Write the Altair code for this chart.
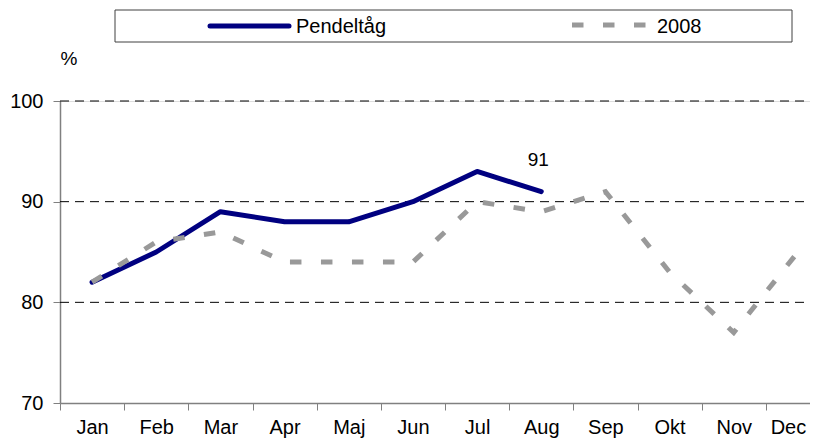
import altair as alt
import pandas as pd

months = ["Jan", "Feb", "Mar", "Apr", "Maj", "Jun", "Jul", "Aug", "Sep", "Okt", "Nov", "Dec"]
pendel = [82, 85, 89, 88, 88, 90, 93, 91]
y2008 = [82, 86, 87, 84, 84, 84, 90, 89, 91, 83, 77, 85]
grid_vals = [80, 90, 100]
y_ticks = [70, 80, 90, 100]
last_label = "91"
series_names = ["Pendeltåg", "2008"]
title_text = "Pendeltåg"

FONT = "Liberation Sans"
NAVY = "#000080"
GRAY = "#999999"
FS = 20

df_p = pd.DataFrame({"month": months[:len(pendel)], "value": pendel})
df_8 = pd.DataFrame({"month": months, "value": y2008})
df_grid = pd.DataFrame({"value": grid_vals})
df_lab = pd.DataFrame({"month": [months[len(pendel) - 1]], "value": [pendel[-1]], "label": [last_label]})

xscale = alt.Scale(domain=months, range=[0, 770], paddingInner=0, paddingOuter=0)
yscale = alt.Scale(domain=[70, 100], nice=False, zero=False)

x_enc = alt.X("month:N", sort=months, scale=xscale, title=None,
              axis=alt.Axis(labelAngle=0, tickBand="extent", labelFont=FONT, labelFontSize=FS,
                            labelColor="black", labelBaseline="alphabetic", labelPadding=23,
                            labelOffset={"expr": "datum.value === 'Dec' ? -10 : 0"},
                            tickSize=7, tickColor="#808080",
                            domainColor="#808080", domainWidth=1.5, labelFlush=False,
                            labelOverlap=False))
y_enc = alt.Y("value:Q", scale=yscale,
              axis=alt.Axis(values=y_ticks, grid=False, labelFont=FONT, labelFontSize=FS,
                            labelColor="black", labelPadding=10, tickSize=7, tickColor="#808080",
                            domainColor="#808080", domainWidth=1.5,
                            title="%", titleAngle=0, titleAlign="left", titleX=0, titleY=-37,
                            titleBaseline="alphabetic", titleFont=FONT, titleFontSize=19,
                            titleFontWeight="normal", titleColor="black"))

grid = alt.Chart(df_grid).mark_rule(color="black", strokeWidth=1, strokeDash=[9, 6]).encode(
    y=alt.Y("value:Q", scale=yscale),
    x=alt.value(0), x2=alt.value(770))

line_p = alt.Chart(df_p).mark_line(color=NAVY, strokeWidth=5, strokeCap="round",
                                   strokeJoin="round").encode(x=x_enc, y=y_enc)
line_8 = alt.Chart(df_8).mark_line(color=GRAY, strokeWidth=5, strokeDash=[11.5, 19.5],
                                   strokeCap="butt").encode(
    x=alt.X("month:N", sort=months, scale=xscale), y=alt.Y("value:Q", scale=yscale))

lab = alt.Chart(df_lab).mark_text(font=FONT, fontSize=19, color="black", align="center",
                                  baseline="alphabetic", dx=-3, dy=-26).encode(
    x=alt.X("month:N", sort=months, scale=xscale), y=alt.Y("value:Q", scale=yscale),
    text="label:N")

# title (mostly hidden above the page, as in the reference)
title = alt.Chart(pd.DataFrame({"t": [title_text]})).mark_text(
    font=FONT, fontSize=18, fontWeight="bold", align="right", baseline="alphabetic",
    color="black").encode(x=alt.value(418), y=alt.value(-101), text="t:N")

# legend
leg_box = alt.Chart(pd.DataFrame({"a": [0]})).mark_rect(
    fill="white", stroke="#404040", strokeWidth=1).encode(
    x=alt.value(55), x2=alt.value(732), y=alt.value(-91), y2=alt.value(-59))
leg_p = alt.Chart(pd.DataFrame({"a": [0]})).mark_rule(
    color=NAVY, strokeWidth=5, strokeCap="round").encode(
    x=alt.value(150), x2=alt.value(229), y=alt.value(-75))
leg_8 = alt.Chart(pd.DataFrame({"a": [0]})).mark_rule(
    color=GRAY, strokeWidth=5, strokeDash=[11.5, 19.5]).encode(
    x=alt.value(512), x2=alt.value(586), y=alt.value(-76))
leg_txt = alt.Chart(pd.DataFrame({"t": series_names, "xp": [236, 597]})).mark_text(
    font=FONT, fontSize=FS, color="black", align="left", baseline="alphabetic").encode(
    x=alt.X("xp:Q", scale=None), y=alt.value(-68), text="t:N")

chart = alt.layer(grid, line_p, line_8, lab, title, leg_box, leg_p, leg_8, leg_txt).properties(
    width=750, height=302,
    autosize=alt.AutoSizeParams(type="none"),
    padding={"left": 52, "top": 93, "right": 0, "bottom": 35},
).configure_view(stroke=None).configure(background="white")

chart.save("out.html", embed_options={"renderer": "svg", "actions": False})
